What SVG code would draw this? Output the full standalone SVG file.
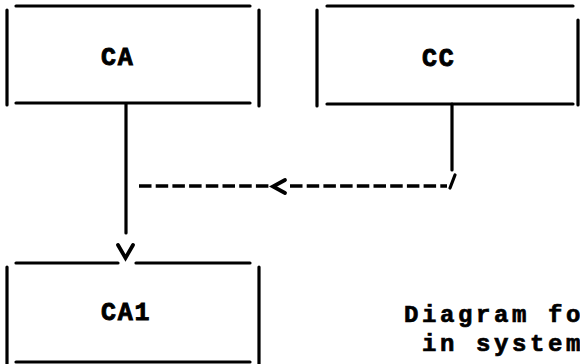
<svg xmlns="http://www.w3.org/2000/svg" width="580" height="364" viewBox="0 0 580 364">
<style>
.ln{stroke:#000;stroke-width:3.2;fill:none;stroke-linecap:round}
.dash{stroke:#000;stroke-width:3.4;fill:none;stroke-dasharray:12.5 4.2}
.hd{stroke:#000;stroke-width:3.8;fill:none;stroke-linecap:round;stroke-linejoin:miter}
.t{font-family:"Liberation Mono","Courier New",monospace;font-weight:bold;fill:#000;stroke:#000}
.lb{font-size:25px;letter-spacing:1.7px;stroke-width:0.9}
.nt{font-size:24px;letter-spacing:3.6px;stroke-width:0.7}
</style>
<rect width="580" height="364" fill="#fff"/>
<g id="CA">
<path class="ln" d="M16 6H250M7 10V105M259 10V106M16 103H250"/>
<text class="t lb" x="101" y="65">CA</text>
</g>
<g id="CC">
<path class="ln" d="M327 6H573M317 10V106M578 20V105M327 104H573"/>
<text class="t lb" x="422" y="66">CC</text>
</g>
<g id="CA1">
<path class="ln" d="M16 263H118M136 263H250M7 267V366M259 267V366M16 362H250"/>
<text class="t lb" x="101" y="320">CA1</text>
</g>
<g id="note">
<text class="t nt" x="404" y="322">Diagram for</text>
<text class="t nt" x="422" y="351">in system</text>
</g>
<g id="connectors">
<path class="ln" d="M126 104V233"/>
<path class="hd" d="M118 245L125.5 258L133 245"/>
<path class="ln" d="M452 104V170"/>
<path class="ln" d="M455 175L450 188"/>
<path class="dash" d="M139 186H271"/>
<path class="hd" d="M285 180L273 186.5L285 193"/>
<path class="dash" d="M290 186H447"/>
</g>
</svg>
